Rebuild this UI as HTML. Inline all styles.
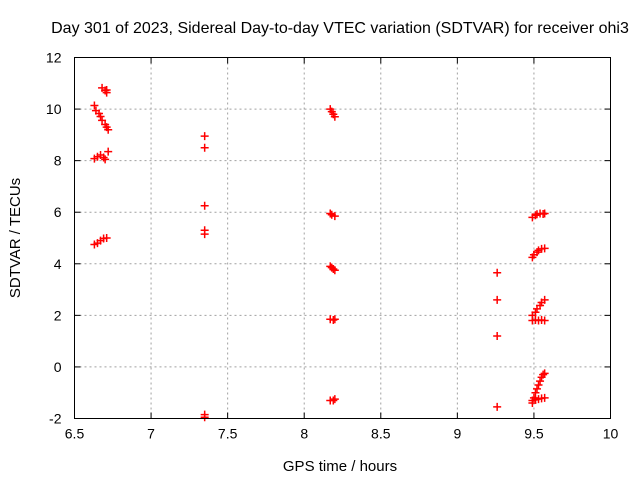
<!DOCTYPE html>
<html><head><meta charset="utf-8"><style>
body{margin:0;background:#fff;}
svg{display:block;font-family:"Liberation Sans",sans-serif;}
</style></head><body>
<svg id="chart" width="640" height="480" viewBox="0 0 640 480">
<text x="340" y="33" font-size="16" text-anchor="middle">Day 301 of 2023, Sidereal Day-to-day VTEC variation (SDTVAR) for receiver ohi3</text>
<text x="340" y="471" font-size="15" text-anchor="middle">GPS time / hours</text>
<text x="20" y="238" font-size="15" text-anchor="middle" transform="rotate(-90 20 238)">SDTVAR / TECUs</text>
<g id="grid"></g><g id="ticks"></g><g id="pts"></g>
<rect x="74.5" y="57.5" width="536" height="361" fill="none" stroke="#000" stroke-width="1"/>
</svg>
<script>
const xTicks=[6.5,7,7.5,8,8.5,9,9.5,10];
const xTickLabels=["6.5","7","7.5","8","8.5","9","9.5","10"];
const yTicks=[-2,0,2,4,6,8,10,12];
const yTickLabels=["-2","0","2","4","6","8","10","12"];
const timesHours=[6.68,6.70,6.71,6.71,6.63,6.64,6.66,6.67,6.68,6.70,6.71,6.72,6.63,6.65,6.67,6.69,6.70,6.72,6.63,6.65,6.67,6.69,6.71,
7.35,7.35,7.35,7.35,7.35,7.35,7.35,
8.17,8.18,8.19,8.20,8.17,8.18,8.20,8.17,8.18,8.19,8.20,8.17,8.19,8.20,8.17,8.19,8.20,
9.26,9.26,9.26,9.26,
9.49,9.51,9.52,9.54,9.56,9.57,9.49,9.50,9.52,9.53,9.55,9.57,9.49,9.51,9.52,9.54,9.55,9.57,9.49,9.51,9.53,9.55,9.57,
9.49,9.50,9.51,9.52,9.53,9.54,9.55,9.56,9.57,9.49,9.51,9.53,9.55,9.57];
const sdtvarValues=[10.82,10.72,10.64,10.74,10.14,9.94,9.83,9.71,9.56,9.40,9.30,9.20,8.08,8.15,8.22,8.12,8.05,8.35,4.75,4.80,4.90,4.98,5.00,
8.95,8.50,6.25,5.30,5.15,-1.85,-1.95,
10.00,9.90,9.80,9.70,5.95,5.90,5.85,3.90,3.85,3.80,3.75,1.85,1.82,1.85,-1.30,-1.30,-1.25,
3.65,2.60,1.20,-1.55,
5.80,5.88,5.92,5.95,5.93,5.95,4.25,4.35,4.45,4.52,4.58,4.60,2.00,2.12,2.25,2.38,2.50,2.60,1.80,1.82,1.80,1.82,1.80,
-1.40,-1.20,-1.00,-0.85,-0.70,-0.55,-0.40,-0.30,-0.25,-1.30,-1.28,-1.25,-1.22,-1.20];
const NS="http://www.w3.org/2000/svg";
const L=74.5,R=610.5,T=57.5,B=418.5;
const xs=v=>L+(v-6.5)/3.5*(R-L);
const ys=v=>B-(v+2)/14*(B-T);
const mk=(t,a,p)=>{const e=document.createElementNS(NS,t);for(const k in a)e.setAttribute(k,a[k]);p.appendChild(e);return e;};
const grid=document.getElementById('grid'),ticks=document.getElementById('ticks'),pts=document.getElementById('pts');
xTicks.forEach((v,i)=>{const x=xs(v);
 if(i>0&&i<xTicks.length-1){const g=mk('line',{x1:x,x2:x,y1:T,y2:B,stroke:'#a0a0a0','stroke-dasharray':'2,3'},grid);
 
 }
 mk('line',{x1:x,x2:x,y1:B,y2:B-6,stroke:'#000'},ticks);mk('line',{x1:x,x2:x,y1:T,y2:T+6,stroke:'#000'},ticks);
 const t=mk('text',{x:x,y:B+20,'font-size':14,'text-anchor':'middle'},ticks);t.textContent=xTickLabels[i];
 
 });
yTicks.forEach((v,i)=>{const y=ys(v);
 if(i>0&&i<yTicks.length-1){const g=mk('line',{x1:L,x2:R,y1:y,y2:y,stroke:'#a0a0a0','stroke-dasharray':'2,3'},grid);
 
 }
 mk('line',{x1:L,x2:L+6,y1:y,y2:y,stroke:'#000'},ticks);mk('line',{x1:R,x2:R-6,y1:y,y2:y,stroke:'#000'},ticks);
 const t=mk('text',{x:L-13,y:y+5,'font-size':14,'text-anchor':'end'},ticks);t.textContent=yTickLabels[i];
 
 });
timesHours.forEach((h,i)=>{const x=xs(h),y=ys(sdtvarValues[i]);
 const p=mk('path',{d:`M${x-4},${y}H${x+4}M${x},${y-4}V${y+4}`,stroke:'#ff0000','stroke-width':1.5,fill:'none'},pts);
 
 });
</script>
</body></html>
